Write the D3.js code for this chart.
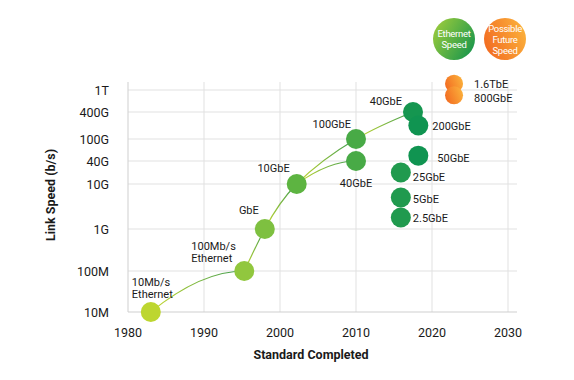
<!DOCTYPE html>
<html>
<head>
<meta charset="utf-8">
<script src="https://cdn.jsdelivr.net/npm/d3@7"></script>
<style>
  body { margin: 0; background: #fff; }
  text { font-family: Roboto, "DejaVu Sans", sans-serif; fill: #1a1a1a; }
</style>
</head>
<body>
<svg id="chart"></svg>
<script>
// data
const labels = ['10Mb/s\nEthernet', '100Mb/s\nEthernet', 'GbE', '10GbE', '100GbE', '40GbE', '40GbE',
  '200GbE', '50GbE', '25GbE', '5GbE', '2.5GbE', '1.6TbE', '800GbE'];
const years = [1983, 1995.3, 1998, 2002.2, 2010, 2010, 2017.5, 2018.2, 2018.2, 2015.9, 2015.9, 2015.9, 2022.9, 2022.9];
const speeds = [1e7, 1e8, 1e9, 1e10, 1e11, 4e10, 4e11, 2e11, 5e10, 2e10, 5e9, 1.8e9, 1.3e12, 8e11];
const future = [0, 0, 0, 0, 0, 0, 0, 0, 0, 0, 0, 0, 1, 1];

const xTicks = [1980, 1990, 2000, 2010, 2020, 2030];
const yTicks = [1e7, 1e8, 1e9, 1e10, 4e10, 1e11, 4e11, 1e12];
const yTickLabels = ['10M', '100M', '1G', '10G', '40G', '100G', '400G', '1T'];

// lines joining the standards (indices into the arrays above)
const arcs = [[0, 1], [3, 5]];
const mainCurve = [1, 2, 3, 4, 6];

const width = 574;
const height = 380;

// label offsets from circle centre [dx, dy, anchor]
const labelPos = [
  [-19, -30, 'start'], [-53, -25, 'start'], [-6, -19, 'end'], [-7, -16, 'end'], [-5, -15, 'end'],
  [0, 22, 'middle'], [-11, -11, 'end'], [14, 0, 'start'], [19, 2, 'start'], [12, 4, 'start'],
  [12, 1, 'start'], [12, 0, 'start'], [20, 0, 'start'], [20, 3, 'start']
];

const svg = d3.select('#chart')
  .attr('width', width)
  .attr('height', height);

const x = d3.scaleLinear().domain([1980, 2030]).range([128, 508]);
// the axis is log-like but not evenly spaced in the original
const y = d3.scaleLog().domain(yTicks).range([312, 271, 229, 184, 161, 139, 112, 90]);

const green = d3.scaleLinear()
  .domain([1983, 1996, 2002, 2010, 2016])
  .range(['#bdd630', '#8ec63f', '#5eb441', '#48aa46', '#1f9a4e']);

const defs = svg.append('defs');

const pts = labels.map((l, i) => ({
  label: l, x: x(years[i]), y: y(speeds[i]), future: future[i], year: years[i]
}));

// grid
svg.append('g')
  .selectAll('line')
  .data(xTicks.slice(1))
  .join('line')
  .attr('x1', d => x(d)).attr('x2', d => x(d))
  .attr('y1', 82).attr('y2', 312)
  .attr('stroke', '#e1e1e1');

svg.append('g')
  .selectAll('line')
  .data(yTicks.slice(1))
  .join('line')
  .attr('x1', 128).attr('x2', 517)
  .attr('y1', d => y(d)).attr('y2', d => y(d))
  .attr('stroke', '#e1e1e1');

svg.append('line').attr('x1', 128).attr('x2', 128).attr('y1', 82).attr('y2', 312).attr('stroke', '#cfcfcf');
svg.append('line').attr('x1', 128).attr('x2', 517).attr('y1', 312).attr('y2', 312).attr('stroke', '#cfcfcf');

// tick labels
svg.append('g')
  .selectAll('text')
  .data(xTicks)
  .join('text')
  .attr('x', d => x(d))
  .attr('y', 337)
  .attr('text-anchor', 'middle')
  .style('font-size', '12.5px')
  .text(d => d);

svg.append('g')
  .selectAll('text')
  .data(yTicks)
  .join('text')
  .attr('x', 109)
  .attr('y', d => y(d) + 4.5)
  .attr('text-anchor', 'end')
  .style('font-size', '12.5px')
  .text((d, i) => yTickLabels[i]);

svg.append('text')
  .attr('x', 311).attr('y', 359)
  .attr('text-anchor', 'middle')
  .style('font-size', '12.5px').style('font-weight', 'bold')
  .text('Standard Completed');

svg.append('text')
  .attr('transform', 'translate(55,195) rotate(-90)')
  .attr('text-anchor', 'middle')
  .style('font-size', '12.5px').style('font-weight', 'bold')
  .text('Link Speed (b/s)');

// each piece of line fades from yellow-green to green, restarting at every circle
function lineGrad(id, idx) {
  const a = pts[idx[0]], b = pts[idx[idx.length - 1]];
  const dx = b.x - a.x, dy = b.y - a.y, len2 = dx * dx + dy * dy;
  const g = defs.append('linearGradient').attr('id', id)
    .attr('gradientUnits', 'userSpaceOnUse')
    .attr('x1', a.x).attr('y1', a.y).attr('x2', b.x).attr('y2', b.y);
  g.append('stop').attr('offset', 0).attr('stop-color', '#cbda2d');
  idx.slice(1, -1).forEach(function (i) {
    const t = ((pts[i].x - a.x) * dx + (pts[i].y - a.y) * dy) / len2;
    g.append('stop').attr('offset', t).attr('stop-color', '#3a9a52');
    g.append('stop').attr('offset', t).attr('stop-color', '#cbda2d');
  });
  g.append('stop').attr('offset', 1).attr('stop-color', '#3a9a52');
}

arcs.forEach(function (seg, k) {
  const a = pts[seg[0]], b = pts[seg[1]];
  lineGrad('arc' + k, seg);
  const p = d3.path();
  p.moveTo(a.x, a.y);
  p.quadraticCurveTo(a.x + (b.x - a.x) * 0.54, b.y, b.x, b.y);
  svg.append('path').attr('d', p.toString())
    .attr('fill', 'none').attr('stroke', 'url(#arc' + k + ')').attr('stroke-width', 1.2);
});

lineGrad('main', mainCurve);
svg.append('path')
  .datum(mainCurve.map(i => pts[i]))
  .attr('d', d3.line().x(d => d.x).y(d => d.y).curve(d3.curveNatural))
  .attr('fill', 'none').attr('stroke', 'url(#main)').attr('stroke-width', 1.2);

// orange gradient
const og = defs.append('linearGradient').attr('id', 'orange')
  .attr('x1', 0).attr('y1', 0.7).attr('x2', 1).attr('y2', 0.3);
og.append('stop').attr('offset', 0).attr('stop-color', '#f26b21');
og.append('stop').attr('offset', 1).attr('stop-color', '#fbb03b');

const gg = defs.append('linearGradient').attr('id', 'greenLeg')
  .attr('x1', 0).attr('y1', 0.2).attr('x2', 1).attr('y2', 0.8);
gg.append('stop').attr('offset', 0).attr('stop-color', '#9bcb3c');
gg.append('stop').attr('offset', 1).attr('stop-color', '#17954c');

// circles
svg.append('g')
  .selectAll('circle')
  .data(pts)
  .join('circle')
  .attr('cx', d => d.x)
  .attr('cy', d => d.y)
  .attr('r', d => d.future ? 9 : 10)
  .attr('fill', d => d.future ? 'url(#orange)' : green(d.year));

// point labels
svg.append('g')
  .selectAll('text')
  .data(pts)
  .join('text')
  .attr('x', (d, i) => d.x + labelPos[i][0])
  .attr('y', (d, i) => d.y + labelPos[i][1] + 4)
  .attr('text-anchor', (d, i) => labelPos[i][2])
  .style('font-size', '11px')
  .each(function (d) {
    const t = d3.select(this);
    d.label.split('\n').forEach(function (line, j) {
      t.append('tspan').attr('x', t.attr('x')).attr('dy', j ? 12 : 0).text(line);
    });
  });

// legend bubbles
const legend = [
  { cx: 454, lines: ['Ethernet', 'Speed'], fill: 'url(#greenLeg)' },
  { cx: 505, lines: ['Possible', 'Future', 'Speed'], fill: 'url(#orange)' }
];
legend.forEach(function (l) {
  svg.append('circle').attr('cx', l.cx).attr('cy', 39).attr('r', 21).attr('fill', l.fill);
  const t = svg.append('text')
    .attr('text-anchor', 'middle')
    .style('font-size', '9.5px')
    .style('letter-spacing', '-0.3px');
  l.lines.forEach(function (line, j) {
    t.append('tspan')
      .attr('x', l.cx)
      .attr('y', 39 + 3.5 + (j - (l.lines.length - 1) / 2) * 11)
      .style('fill', '#fff')
      .text(line);
  });
});
</script>
</body>
</html>
